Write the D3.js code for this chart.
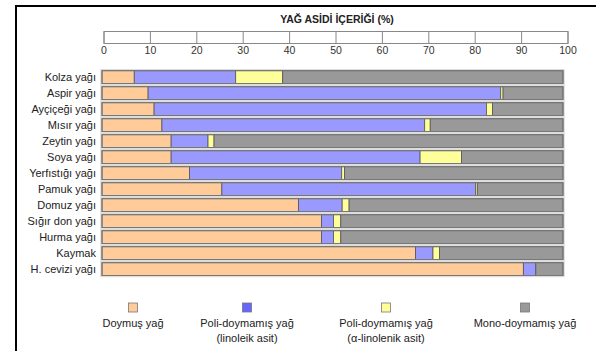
<!DOCTYPE html>
<html>
<head>
<meta charset="utf-8">
<script src="https://cdn.jsdelivr.net/npm/d3@7"></script>
<style>
  body { margin: 0; background: #fff; }
  svg { display: block; font-family: "Liberation Sans", Arial, sans-serif; }
</style>
</head>
<body>
<svg></svg>
<script>
// chart size
const width = 596, height = 351;

// data (percent of fatty acids)
const oils = ["Kolza yağı", "Aspir yağı", "Ayçiçeği yağı", "Mısır yağı", "Zeytin yağı", "Soya yağı",
  "Yerfıstığı yağı", "Pamuk yağı", "Domuz yağı", "Sığır don yağı", "Hurma yağı", "Kaymak", "H. cevizi yağı"];
const saturated = [7, 10, 11.3, 13, 15, 15, 19, 26, 42.6, 47.6, 47.6, 68, 91.4];
const linoleic  = [22, 76.5, 72.1, 57, 8, 54, 33, 55, 9.5, 2.6, 2.6, 3.8, 2.7];
const linolenic = [10.2, 0.5, 1.3, 1.2, 1.3, 9, 0.6, 0.4, 1.5, 1.6, 1.6, 1.4, 0];
const mono      = [60.8, 13, 15.3, 28.8, 75.7, 22, 47.4, 18.6, 46.4, 48.2, 48.2, 26.8, 5.9];
const ticks = [0, 10, 20, 30, 40, 50, 60, 70, 80, 90, 100];

const keys = ["sat", "lin", "alin", "mono"];
const barColors = { sat: "#ffcc99", lin: "#9999ff", alin: "#ffff99", mono: "#999999" };
const legendColors = ["#ffcc99", "#6666ff", "#ffff99", "#999999"];
const legendLabels = [["Doymuş yağ"], ["Poli-doymamış yağ", "(linoleik asit)"],
  ["Poli-doymamış yağ", "(α-linolenik asit)"], ["Mono-doymamış yağ"]];

const svg = d3.select("svg").attr("width", width).attr("height", height);

// black frame on top and left
svg.append("line").attr("x1", 15).attr("x2", 596).attr("y1", 6).attr("y2", 6)
  .attr("stroke", "#000").attr("stroke-width", 2);
svg.append("line").attr("x1", 16).attr("x2", 16).attr("y1", 5).attr("y2", 351)
  .attr("stroke", "#000").attr("stroke-width", 2);

// title
svg.append("text").attr("x", 337).attr("y", 23).attr("text-anchor", "middle")
  .attr("font-size", "10.5px").attr("font-weight", "bold").attr("fill", "#222")
  .text("YAĞ ASİDİ İÇERİĞİ (%)");

// ruler-style axis on top
const xAxisScale = d3.scaleLinear().domain([0, 100]).range([104, 568]);
svg.append("rect").attr("x", 104).attr("y", 31.5).attr("width", 464).attr("height", 12)
  .attr("fill", "#fff").attr("stroke", "#888");
svg.selectAll(".tk").data(ticks).enter().append("line")
  .attr("x1", d => xAxisScale(d)).attr("x2", d => xAxisScale(d))
  .attr("y1", 31.5).attr("y2", 43.5).attr("stroke", "#888");
svg.selectAll(".tl").data(ticks).enter().append("text")
  .attr("x", d => xAxisScale(d)).attr("y", 54).attr("text-anchor", "middle")
  .attr("font-size", "10.5px").attr("fill", "#333").text(d => d);

// bars
const x = d3.scaleLinear().domain([0, 100]).range([102, 563]);
const y = d3.scaleBand().domain(oils).range([69.1, 277.1]).paddingInner(0.2).paddingOuter(0.1);

const table = oils.map((o, i) => ({ oil: o, sat: saturated[i], lin: linoleic[i], alin: linolenic[i], mono: mono[i] }));
const series = d3.stack().keys(keys)(table);

// soft shadow and outline per bar
svg.selectAll(".shadow").data(table).enter().append("rect")
  .attr("x", x(0) - 1).attr("y", d => y(d.oil) - 1)
  .attr("width", x(100) - x(0) + 2).attr("height", y.bandwidth() + 2)
  .attr("fill", "none").attr("stroke", "#ddd").attr("stroke-width", 1.5);

svg.selectAll(".series").data(series).enter().append("g")
  .attr("fill", d => barColors[d.key])
  .selectAll("rect").data(d => d).enter().append("rect")
  .attr("x", d => x(d[0]))
  .attr("y", d => y(d.data.oil))
  .attr("width", d => x(d[1]) - x(d[0]))
  .attr("height", y.bandwidth())
  .attr("stroke", "#555").attr("stroke-width", 0.8);

svg.selectAll(".outline").data(table).enter().append("rect")
  .attr("x", x(0)).attr("y", d => y(d.oil))
  .attr("width", x(100) - x(0)).attr("height", y.bandwidth())
  .attr("fill", "none").attr("stroke", "#777").attr("stroke-width", 1);

// category labels
svg.selectAll(".cat").data(oils).enter().append("text")
  .attr("x", 96).attr("y", d => y(d) + y.bandwidth() / 2 + 4)
  .attr("text-anchor", "end").attr("font-size", "11px").attr("fill", "#222")
  .text(d => d);

// legend
const legendX = [133, 247, 386, 525];
const lg = svg.selectAll(".lg").data(legendLabels).enter().append("g")
  .attr("transform", (d, i) => `translate(${legendX[i]},0)`);
lg.append("rect").attr("x", -4.5).attr("y", 303).attr("width", 9).attr("height", 9)
  .attr("fill", (d, i) => legendColors[i]).attr("stroke", "#777").attr("stroke-width", 0.8);
lg.selectAll("text").data(d => d).enter().append("text")
  .attr("x", 0).attr("y", (d, j) => 327 + j * 15).attr("text-anchor", "middle")
  .attr("font-size", "11px").attr("fill", "#222").text(d => d);
</script>
</body>
</html>
